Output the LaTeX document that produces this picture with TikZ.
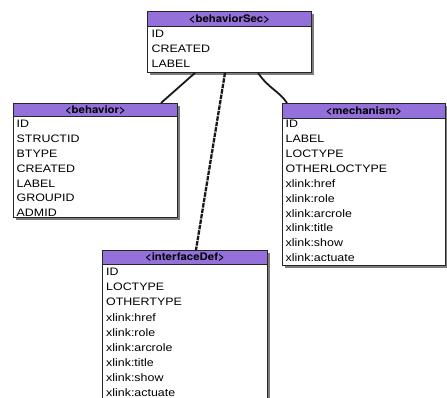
\documentclass[tikz,border=0pt]{standalone}
\usepackage{fontspec}
\setmainfont{Liberation Sans}[FakeStretch=1.15]
\newfontfamily\hdrfont{TeX Gyre Heros}[FakeStretch=1.1]
\usetikzlibrary{calc,shadows}
\definecolor{hdr}{RGB}{148,112,219}
\definecolor{shd}{RGB}{125,125,125}
\begin{document}
\begin{tikzpicture}[x=1pt,y=-1pt,
  tbl/.style={draw=black!85, line width=0.9pt, fill=white, anchor=north west, inner sep=0pt,
    drop shadow={shadow xshift=2.5pt, shadow yshift=-2.5pt, fill=shd, opacity=1}},
  hdrbox/.style={draw=black!85, line width=0.9pt, fill=hdr, anchor=north west, inner sep=0pt},
  hdrtext/.style={inner sep=0pt, text=black, font=\hdrfont\fontsize{10.4}{12}\selectfont\bfseries},
  row/.style={anchor=base west, inner sep=0pt, text=black, font=\fontsize{10.8}{13}\selectfont},
  link/.style={line width=1.8pt, draw=black!90},
]
\useasboundingbox (0,0) rectangle (447,398);
\clip (0,0) rectangle (447,398);

% behaviorSec
\node[tbl, minimum width=164pt, minimum height=61pt] (bs) at (147,11) {};
\node[hdrbox, minimum width=164pt, minimum height=15pt] (bsH) at (147,11) {};
\node[hdrtext] (bsT) at (bsH.center) {<behaviorSec>};
\foreach \t [count=\i] in {ID,CREATED,LABEL}
  \node[row] (bs-\i) at (151.5,{37.3+(\i-1)*15.3}) {\t};

% behavior
\node[tbl, minimum width=164pt, minimum height=114pt] (beh) at (13,103) {};
\node[hdrbox, minimum width=164pt, minimum height=13.5pt] (behH) at (13,103) {};
\node[hdrtext] (behT) at (behH.center) {<behavior>};
\foreach \t [count=\i] in {ID,STRUCTID,BTYPE,CREATED,LABEL,GROUPID,ADMID}
  \node[row] (beh-\i) at (16.5,{127.8+(\i-1)*14.83}) {\t};

% mechanism
\node[tbl, minimum width=163pt, minimum height=162pt] (mech) at (282,103) {};
\node[hdrbox, minimum width=163pt, minimum height=15pt] (mechH) at (282,103) {};
\node[hdrtext] (mechT) at (mechH.center) {<mechanism>};
\foreach \t [count=\i] in {ID,LABEL,LOCTYPE,OTHERLOCTYPE,xlink:href,xlink:role,xlink:arcrole,xlink:title,xlink:show,xlink:actuate}
  \node[row] (mech-\i) at (285.5,{127.7+(\i-1)*14.9}) {\t};

% interfaceDef
\node[tbl, minimum width=165pt, minimum height=170pt] (intf) at (102,250) {};
\node[hdrbox, minimum width=165pt, minimum height=13.5pt] (intfH) at (102,250) {};
\node[hdrtext] (intfT) at (intfH.center) {<interfaceDef>};
\foreach \t [count=\i] in {ID,LOCTYPE,OTHERTYPE,xlink:href,xlink:role,xlink:arcrole,xlink:title,xlink:show,xlink:actuate}
  \node[row] (intf-\i) at (106,{275.7+(\i-1)*15.1}) {\t};

% connectors
\draw[link] ($(bs.south west)+(48,0)$) -- ($(behH.north west)+(148,0)$);
\draw[link, line width=2.3pt, dash pattern=on 4.5pt off 1pt] ($(bs.south west)+(78,0)$) -- ($(intfH.north west)+(94,0)$);
\draw[link] ($(bs.south west)+(111,0)$) .. controls ($(bs.south west)+(122,16)$) and ($(bs.south west)+(132,18)$) .. ($(mechH.north west)+(5,0)$);
\end{tikzpicture}
\end{document}
